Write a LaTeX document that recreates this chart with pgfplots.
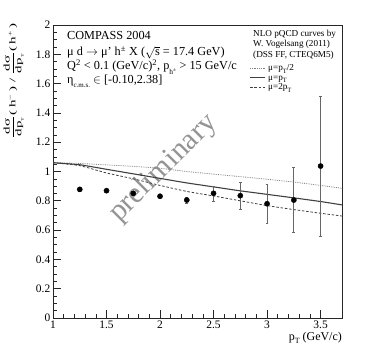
\documentclass[border=0pt]{standalone}
\usepackage{fontspec}
\setmainfont{Liberation Serif}
\usepackage{pgfplots}
\pgfplotsset{compat=1.18}
\usepackage{pgfplotstable}

\pgfplotstableread{
x    y     e
1.25 0.878 0.010
1.50 0.869 0.010
1.75 0.851 0.012
2.00 0.831 0.015
2.25 0.805 0.022
2.50 0.851 0.051
2.75 0.835 0.090
3.00 0.780 0.134
3.25 0.805 0.222
3.50 1.037 0.480
}\datatab

\pgfplotstableread{
x    half  one   two
1.00 1.060 1.060 1.060
1.25 1.055 1.046 1.040
1.50 1.045 1.015 0.990
1.75 1.035 0.984 0.950
2.00 1.022 0.953 0.905
2.25 1.000 0.922 0.864
2.50 0.982 0.895 0.833
2.75 0.965 0.868 0.800
3.00 0.947 0.844 0.767
3.25 0.928 0.820 0.740
3.50 0.905 0.795 0.715
3.70 0.885 0.772 0.696
}\curvetab

\tikzset{
  halfstyle/.style={black!50, line width=0.8bp, dash pattern=on 0.8bp off 1bp},
  onestyle/.style={black!75, line width=1.1bp},
  twostyle/.style={black!75, line width=0.8bp, dash pattern=on 2.5bp off 1.8bp},
  legtext/.style={anchor=base west, inner sep=0pt, font=\fontsize{9.2}{9}\selectfont},
}
\newcommand\lowT{\raisebox{-2.5bp}{\fontsize{6.5}{7}\selectfont T}}

\begin{document}
\begin{tikzpicture}
\begin{axis}[
  name=ax,
  at={(0,0)}, anchor=south west,
  scale only axis, width=289bp, height=293bp,
  xmin=1, xmax=3.7, ymin=0, ymax=2,
  xtick={1,1.5,2,2.5,3,3.5},
  ytick={0,0.2,0.4,0.6,0.8,1,1.2,1.4,1.6,1.8,2},
  minor x tick num=4, minor y tick num=3,
  tick align=inside, xtick pos=left, ytick pos=left,
  major tick length=8bp, minor tick length=4bp,
  tick style={black!85, line width=0.6bp},
  axis line style={black!85, line width=0.8bp},
  ticklabel style={font=\fontsize{11.5}{13}\selectfont},
  /pgf/number format/assume math mode=true,
  xticklabel style={inner sep=0pt, yshift=-3bp},
  yticklabel style={inner sep=0pt, xshift=-2.5bp},
]
\node[rotate=45, text=black!42, font=\fontsize{30}{30}\selectfont] at (axis cs:2.03,1.02) {preliminary};

\addplot[halfstyle, smooth, tension=0.3] table[x=x,y=half] {\curvetab};
\addplot[onestyle, smooth, tension=0.3] table[x=x,y=one] {\curvetab};
\addplot[twostyle, smooth, tension=0.3] table[x=x,y=two] {\curvetab};

\addplot[only marks, mark=*, mark size=2.6bp, black,
  error bars/.cd, y dir=both, y explicit,
  error bar style={black!60, line width=0.7bp},
  error mark options={rotate=90, mark size=1.4bp, black!60}]
  table[x=x,y=y,y error=e] {\datatab};
\end{axis}

% header text (positions in bp from the axis' lower left corner)
\begin{scope}[every node/.style={anchor=base west, inner sep=0pt, font=\fontsize{12.3}{13}\selectfont}]
\node at (14bp,278bp) {COMPASS 2004};
\node at (14bp,262bp) {μ d $\rightarrow$ μ' h\textsuperscript{±} X ($\sqrt{\mbox{s}}$ = 17.4 GeV)};
\node at (14bp,248bp) {Q\textsuperscript{2} < 0.1 (GeV/c)\textsuperscript{2}, p\raisebox{-5bp}{\fontsize{7.5}{9}\selectfont h\textsuperscript{±}} > 15 GeV/c};
\node at (14bp,234bp) {η\raisebox{-3.5bp}{\fontsize{7}{8}\selectfont c.m.s.} $\in$ [-0.10,2.38]};
\end{scope}

% legend (NLO curves)
\node[legtext] at (200bp,281.5bp) {NLO pQCD curves by};
\node[legtext] at (200bp,271bp) {W. Vogelsang (2011)};
\node[legtext] at (200bp,260bp) {(DSS FF, CTEQ6M5)};
\draw[halfstyle] (197bp,250bp) -- (212bp,250bp);
\draw[onestyle]  (197bp,240.5bp) -- (212bp,240.5bp);
\draw[twostyle]  (197bp,231bp) -- (212bp,231bp);
\node[legtext] at (215bp,247bp) {μ=p\lowT/2};
\node[legtext] at (215bp,237.5bp) {μ=p\lowT};
\node[legtext] at (215bp,228bp) {μ=2p\lowT};

% y label
\node[rotate=90, anchor=east, inner sep=0pt] at (-39.5bp,295bp)
  {\resizebox*{115bp}{20bp}{\fontsize{12}{13}\selectfont$\displaystyle\frac{\mbox{d\kern0.5bp σ}}{\mbox{d\kern0.5bp p}_{\mbox{\tiny T}}}\mbox{(\,h\textsuperscript{−}\,)}\mbox{ / }\frac{\mbox{d\kern0.5bp σ}}{\mbox{d\kern0.5bp p}_{\mbox{\tiny T}}}\mbox{(\,h\textsuperscript{+}\,)}$}};
% x label
\node[anchor=base east, inner sep=0pt, font=\fontsize{12}{13}\selectfont] at (289bp,-22bp)
  {p\raisebox{-3.5bp}{\fontsize{8}{9}\selectfont T} (GeV/c)};

\pgfresetboundingbox
\path[use as bounding box] (-53bp,-35bp) rectangle (315bp,318bp);
\end{tikzpicture}
\end{document}
